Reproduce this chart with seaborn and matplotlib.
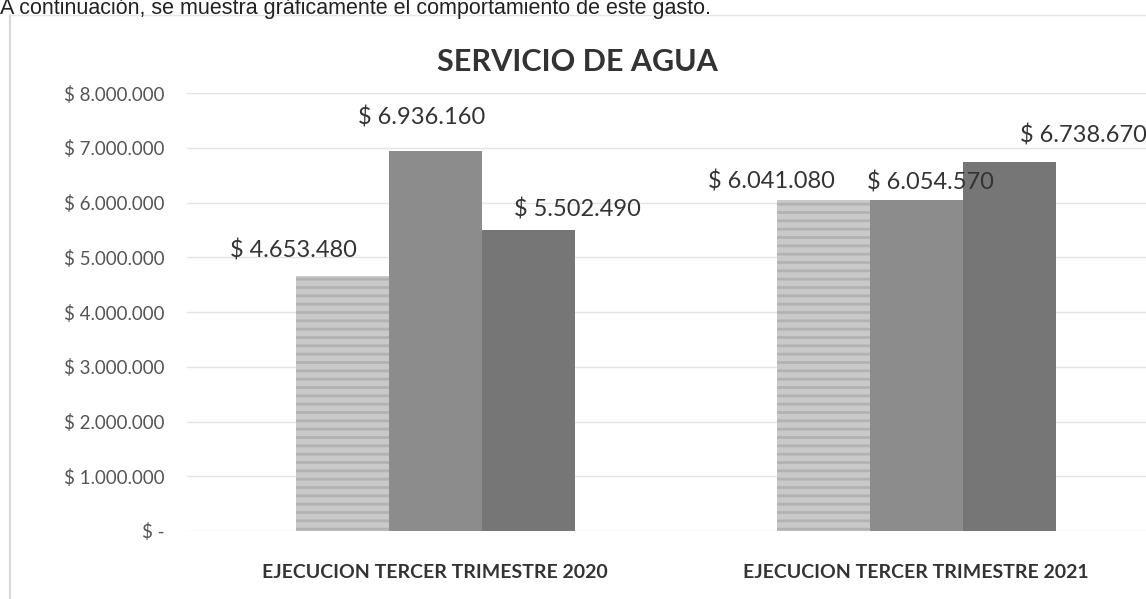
import pandas as pd
import matplotlib.pyplot as plt
import matplotlib.ticker as mticker
import seaborn as sns

# data
periodos = ["EJECUCION TERCER TRIMESTRE 2020", "EJECUCION TERCER TRIMESTRE 2021"]
meses = ["Julio", "Agosto", "Septiembre"]
valores_2020 = [4653480, 6936160, 5502490]
valores_2021 = [6041080, 6054570, 6738670]
colores = ["#c9c9c9", "#8c8c8c", "#767676"]

# label offsets (pixels) relative to each bar top, as placed in the original
offsets = [(-49, 26), (-14, 34), (49, 20), (-52, 19), (14, 17), (74, 27)]

df = pd.DataFrame({
    "periodo": [periodos[0]] * 3 + [periodos[1]] * 3,
    "mes": meses * 2,
    "valor": valores_2020 + valores_2021,
})

sns.set_theme(style="white")
plt.rcParams["font.family"] = ["Lato", "DejaVu Sans"]
plt.rcParams["hatch.linewidth"] = 2.0

fig = plt.figure(figsize=(11.46, 5.99), dpi=100)
ax = fig.add_axes([187 / 1146, 68 / 599, 959 / 1146, 438 / 599])

sns.barplot(data=df, x="periodo", y="valor", hue="mes", palette=colores,
            width=0.58, gap=0, legend=False, ax=ax, linewidth=0)

# light bars in the scan show horizontal streaks
for bar in ax.containers[0]:
    bar.set_hatch("--")
    bar.set_edgecolor("#b2b2b2")
    bar.set_linewidth(0)

ax.set_ylim(0, 8000000)
ax.set_xlim(-0.516, 1.478)
ax.yaxis.set_major_locator(mticker.MultipleLocator(1000000))


def pesos(v, pos):
    if v == 0:
        return "$ -"
    return "$ " + f"{int(v):,}".replace(",", ".")


ax.yaxis.set_major_formatter(mticker.FuncFormatter(pesos))
ax.grid(axis="y", color="#e4e4e4", linewidth=1)
ax.set_axisbelow(True)
sns.despine(ax=ax, left=True, bottom=True, top=True, right=True)
ax.set_xlabel("")
ax.set_ylabel("")
ax.tick_params(axis="y", labelsize=13.5, labelcolor="#555555", pad=16, length=0)
ax.tick_params(axis="x", labelsize=14, labelcolor="#333333", pad=24, length=0)
for lbl in ax.get_xticklabels():
    lbl.set_fontweight("bold")

# value labels, bar order: period by period, month by month
order = []
for k in range(len(periodos)):
    for cont in ax.containers:
        order.append(cont[k])
for b, (dx, dy) in zip(order, offsets):
    h = b.get_height()
    ax.annotate(pesos(h, None), xy=(b.get_x() + b.get_width() / 2, h),
                xytext=(dx, dy), textcoords="offset pixels",
                ha="center", va="center", fontsize=17, color="#333333",
                annotation_clip=False)

fig.text(0.5035, 0.896, "SERVICIO DE AGUA", ha="center", va="center",
         fontsize=22, fontweight="bold", color="#333333")

# sentence cut off by the scan at the top of the page
fig.text(0.0, 1 - 14 / 599, "A continuación, se muestra gráficamente el comportamiento de este gasto.",
         ha="left", va="baseline", fontsize=15.5, color="#222222",
         family=["Liberation Sans", "DejaVu Sans"])

# chart frame edge visible in the scan
fig.add_artist(plt.Line2D([0.009, 0.009], [0.0, 0.975], color="#d8d8d8", linewidth=1.5))
fig.add_artist(plt.Line2D([0.009, 1.0], [0.975, 0.975], color="#e6e6e6", linewidth=1))

fig.savefig("out.png", dpi=100, facecolor="white")
